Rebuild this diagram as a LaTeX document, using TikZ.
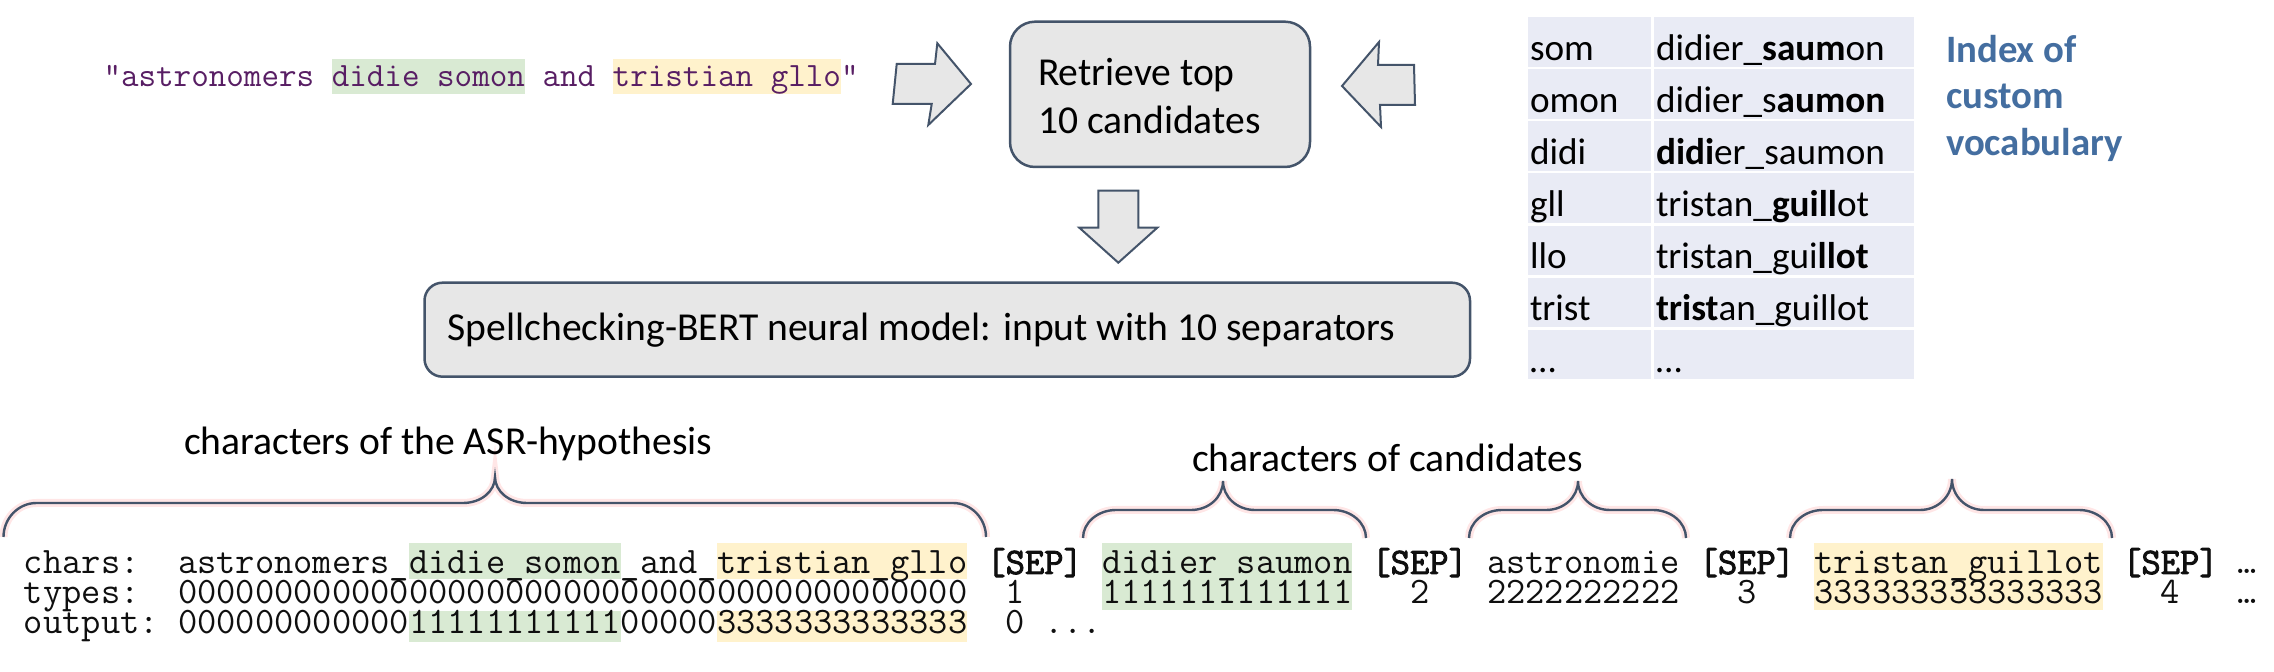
\documentclass[tikz,border=0pt]{standalone}
\usepackage{fontspec}
\setmainfont{Carlito}
\newfontfamily\sepfont{Latin Modern Mono}[FakeBold=2.5]
\definecolor{boxfill}{RGB}{231,231,231}
\definecolor{boxline}{RGB}{68,84,106}
\definecolor{cellfill}{RGB}{233,235,245}
\definecolor{hlgreen}{RGB}{217,234,211}
\definecolor{hlyellow}{RGB}{255,242,204}
\definecolor{quotecol}{RGB}{88,30,100}
\definecolor{indexcol}{RGB}{68,110,160}
\definecolor{glowcol}{RGB}{255,200,200}
\definecolor{monocol}{RGB}{15,15,15}
% x0 x1 xtip ytip yflat ybottom
\newcommand\bracepath[6]{(#1,#6) .. controls (#1,{#6-0.55*(#6-#5)}) and ({#1+0.45*33},#5) .. ({#1+33},#5)
  -- ({#3-32},#5) .. controls ({#3-14},#5) and (#3,{#5-0.45*(#5-#4)}) .. (#3,#4)
  .. controls (#3,{#5-0.45*(#5-#4)}) and ({#3+14},#5) .. ({#3+32},#5)
  -- ({#2-33},#5) .. controls ({#2-0.45*33},#5) and (#2,{#6-0.55*(#6-#5)}) .. (#2,#6)}
% mono segment: name, char index, baseline y, text
\newcommand\mseg[4]{\node[monotxt] (#1) at ({178+19.25*#2},#3) {#4};}
\newcommand\qseg[3]{\node[quotetxt] (#1) at ({103.5+17.56*#2},87) {#3};}
\begin{document}
\begin{tikzpicture}[x=0.5pt,y=-0.5pt,
  every node/.style={inner sep=0pt,outer sep=0pt},
  txt/.style={anchor=base west,font=\fontsize{19.8}{23}\selectfont},
  celltxt/.style={anchor=base west,font=\fontsize{18.6}{22}\selectfont},
  idxtxt/.style={anchor=base west,font=\bfseries\fontsize{19.4}{22}\selectfont,text=indexcol},
  monotxt/.style={anchor=base west,font=\ttfamily\fontsize{18.69}{20}\selectfont,text=monocol},
  quotetxt/.style={anchor=base west,font=\ttfamily\fontsize{17.05}{19}\selectfont,text=quotecol},
  procbox/.style={draw=boxline,fill=boxfill,line width=1.25pt},
  blockarrow/.style={draw=boxline,fill=boxfill,line width=1pt,line join=miter},
  bracesty/.style={draw=boxline,line width=1.2pt},
  glowsty/.style={draw=glowcol,line width=4pt,opacity=0.45}]
\useasboundingbox (0,0) rectangle (2274,672);

% ---------- quote with highlights ----------
\fill[hlgreen] (331.8,59) rectangle (525,94);
\fill[hlyellow] (612.7,59) rectangle (841.1,94);
\qseg{q1}{0}{“astronomers}
\qseg{q2}{13}{didie~somon}
\qseg{q3}{25}{and}
\qseg{q4}{29}{tristian~gllo”}

% ---------- block arrows ----------
\draw[blockarrow] (896.7,64) -- (935,64) -- (937.3,43.3) -- (971,84) -- (928.3,125) -- (931.7,104) -- (892.7,104) -- cycle;
\draw[blockarrow] (1342,86) -- (1379,42) -- (1378,65) -- (1414,65) -- (1415,105) -- (1380,105) -- (1381,127) -- cycle;
\draw[blockarrow] (1098.3,190.7) -- (1138.3,190.7) -- (1138.3,227.7) -- (1157.3,227.7) -- (1118.3,262.7) -- (1079.3,227.7) -- (1098.3,227.7) -- cycle;

% ---------- boxes ----------
\node[procbox,rounded corners=12.5pt,minimum width=150pt,minimum height=72.65pt] (retr) at (1160,94.35) {};
\node[txt] (retrA) at (1038,86) {Retrieve top};
\node[txt] (retrB) at (1038,133.5) {10 candidates};
\node[procbox,rounded corners=9pt,minimum width=522.75pt,minimum height=47pt] (bert) at (947.25,329.7) {};
\node[txt] (berttxt) at (447.7,341) {Spellchecking-BERT neural model: input with 10 separators};

% ---------- vocabulary table ----------
\foreach \r in {0,...,6} {
  \fill[cellfill] (1528,{17.3+52.06*\r}) rectangle (1651,{17.3+52.06*\r+49.5});
  \fill[cellfill] (1654,{17.3+52.06*\r}) rectangle (1914,{17.3+52.06*\r+49.5});
}
\node[celltxt] (k1) at (1530,60.3) {som};
\node[celltxt] (v1) at (1656,60.3) {didier\_\textbf{saum}on};
\node[celltxt] (k2) at (1530,112.4) {omon};
\node[celltxt] (v2) at (1656,112.4) {didier\_s\textbf{aumon}};
\node[celltxt] (k3) at (1530,164.4) {didi};
\node[celltxt] (v3) at (1656,164.4) {\textbf{didi}er\_saumon};
\node[celltxt] (k4) at (1530,216.5) {gll};
\node[celltxt] (v4) at (1656,216.5) {tristan\_\textbf{guill}ot};
\node[celltxt] (k5) at (1530,268.5) {llo};
\node[celltxt] (v5) at (1656,268.5) {tristan\_gui\textbf{llot}};
\node[celltxt] (k6) at (1530,320.6) {trist};
\node[celltxt] (v6) at (1656,320.6) {\textbf{trist}an\_guillot};
\node[celltxt] (k7) at (1530,372.7) {…};
\node[celltxt] (v7) at (1656,372.7) {…};
\node[idxtxt] (idx1) at (1946,63) {Index of};
\node[idxtxt] (idx2) at (1946,109) {custom};
\node[idxtxt] (idx3) at (1946,156) {vocabulary};

% ---------- braces ----------
\draw[glowsty] \bracepath{3.5}{986}{495}{477}{503}{537};
\draw[bracesty] \bracepath{3.5}{986}{495}{477}{503}{537};
\draw[glowsty] \bracepath{1083}{1366}{1223}{481}{510}{538};
\draw[bracesty] \bracepath{1083}{1366}{1223}{481}{510}{538};
\draw[glowsty] \bracepath{1469}{1686}{1578}{481}{510}{538};
\draw[bracesty] \bracepath{1469}{1686}{1578}{481}{510}{538};
\draw[glowsty] \bracepath{1790}{2112}{1952}{479}{510}{538};
\draw[bracesty] \bracepath{1790}{2112}{1952}{479}{510}{538};
\node[txt] (asrlab) at (184,455) {characters of the ASR-hypothesis};
\node[txt] (candlab) at (1192,471.7) {characters of candidates};

% ---------- bottom rows: highlights ----------
\fill[hlgreen] ({178+19.25*12},543) rectangle ({178+19.25*23},579);
\fill[hlyellow] ({178+19.25*28},543) rectangle ({178+19.25*41},579);
\fill[hlgreen] ({178+19.25*48},543) rectangle ({178+19.25*61},610);
\fill[hlyellow] ({178+19.25*85},543) rectangle ({178+19.25*100},610);
\fill[hlgreen] ({178+19.25*12},611) rectangle ({178+19.25*23},642);
\fill[hlyellow] ({178+19.25*28},611) rectangle ({178+19.25*41},642);

% ---------- bottom rows: text ----------
\mseg{clab}{-8}{574}{chars:}
\mseg{c1}{0}{574}{astronomers\_}
\mseg{c2}{12}{574}{didie\_somon}
\mseg{c3}{23}{574}{\_and\_}
\mseg{c4}{28}{574}{tristian\_gllo}
\mseg{s1}{42}{574}{\sepfont [SEP]}
\mseg{c5}{48}{574}{didier\_saumon}
\mseg{s2}{62}{574}{\sepfont [SEP]}
\mseg{c6}{68}{574}{astronomie}
\mseg{s3}{79}{574}{\sepfont [SEP]}
\mseg{c7}{85}{574}{tristan\_guillot}
\mseg{s4}{101}{574}{\sepfont [SEP]}
\mseg{c8}{107}{574}{…}
\mseg{tlab}{-8}{604}{types:}
\mseg{t1}{0}{604}{00000000000000000000000000000000000000000}
\mseg{t2}{43}{604}{1}
\mseg{t3}{48}{604}{1111111111111}
\mseg{t4}{64}{604}{2}
\mseg{t5}{68}{604}{2222222222}
\mseg{t6}{81}{604}{3}
\mseg{t7}{85}{604}{333333333333333}
\mseg{t8}{103}{604}{4}
\mseg{t9}{107}{604}{…}
\mseg{olab}{-8}{634}{output:}
\mseg{o1}{0}{634}{000000000000}
\mseg{o2}{12}{634}{11111111111}
\mseg{o3}{23}{634}{00000}
\mseg{o4}{28}{634}{3333333333333}
\mseg{o5}{43}{634}{0}
\mseg{o6}{45}{634}{...}
\end{tikzpicture}
\end{document}
